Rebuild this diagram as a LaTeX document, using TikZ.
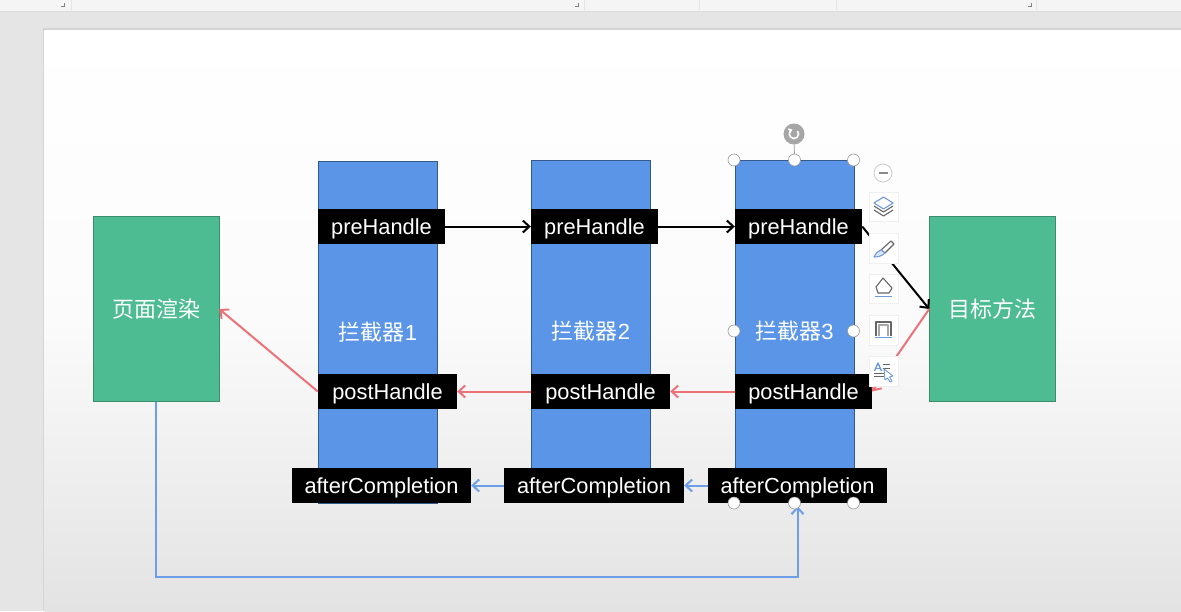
\documentclass[tikz,border=0pt]{standalone}
\usepackage{fontspec}
\setmainfont{Liberation Sans}
\newfontfamily\cjk{Noto Sans CJK SC}
\usetikzlibrary{arrows.meta, shadows}
\definecolor{boxblue}{HTML}{5A95E8}
\definecolor{boxgreen}{HTML}{4DBC93}
\definecolor{redline}{HTML}{EE7178}
\definecolor{blueline}{HTML}{6C9EEA}
\definecolor{iconblue}{HTML}{6F9BDC}
\tikzset{
  block/.style={draw=boxblue!60!black, line width=0.6pt, fill=boxblue, text=white, inner sep=0pt,
    minimum width=119, minimum height=342, font=\fontsize{22}{26}\selectfont\cjk},
  goal/.style={block, draw=boxgreen!75!black, fill=boxgreen, minimum width=126, minimum height=185.5},
  tag/.style={fill=black, text=white, inner sep=0pt, minimum height=35, text height=16, text depth=0,
    font=\fontsize{21.8}{26}\selectfont},
  grip/.style={circle, draw=black!40, line width=0.6pt, fill=white, inner sep=0pt, minimum size=12},
  tool/.style={draw=black!6, fill=white, inner sep=0pt, minimum size=29.5,
    drop shadow={shadow xshift=1pt, shadow yshift=-1pt, opacity=0.4, fill=black}},
  pen/.style={line width=1.1pt, line join=round},
  wire/.style={->, line width=2pt}
}
\begin{document}
\begin{tikzpicture}[x=1pt, y=-1pt, >={Straight Barb[length=6.5pt, width=12pt]}]
  \useasboundingbox (0,0) rectangle (1181,611);
  % window and slide
  \fill [black!10] (0,0) rectangle (1181,611);
  \fill [black!4] (0,0) rectangle (1181,11);
  \draw [black!14, line width=0.8pt] (0,11.5) -- (1181,11.5);
  \foreach \sx in {71,584,699,836,1036} {
    \draw [black!10] (\sx,0) -- (\sx,10);
  }
  \foreach \sx in {64,578,1031} {
    \draw [black!50, line width=0.6pt] (\sx-3,6) -- (\sx,6) -- (\sx,3);
  }
  \fill [black!17] (42.5,27.5) rectangle (1181,611);
  \shade [top color=white, bottom color=black!11, middle color=black!1.5] (44.5,30) rectangle (1181,611);

  % blocks
  \node [block] (box1) at (378,332) {拦截器{\rmfamily 1}};
  \node [block] (box2) at (591,331.5) {拦截器{\rmfamily 2}};
  \node [block] (box3) at (794.5,331.5) {拦截器{\rmfamily 3}};
  \node [goal] (render) at (156,309) {页面渲染};
  \node [goal] (target) at (992.5,309) {目标方法};

  \node [tag, minimum width=127] (pre1) at (381.5,226.5) {preHandle};
  \node [tag, minimum width=127] (pre2) at (594.5,226.5) {preHandle};
  \node [tag, minimum width=127] (pre3) at (798.5,226.5) {preHandle};
  \node [tag, minimum width=139] (post1) at (387.5,391.5) {postHandle};
  \node [tag, minimum width=139] (post2) at (600.5,391.5) {postHandle};
  \node [tag, minimum width=137] (post3) at (803.5,391.5) {postHandle};
  \node [tag, minimum width=179] (after1) at (381.5,485.5) {afterCompletion};
  \node [tag, minimum width=180] (after2) at (594,485.5) {afterCompletion};
  \node [tag, minimum width=179] (after3) at (797.5,485.5) {afterCompletion};
  \coordinate (turn) at (797.5,577);

  % connectors
  \draw [wire] (pre1) -- (pre2);
  \draw [wire] (pre2) -- (pre3);
  \draw [wire] (pre3.east) -- (target.west);
  \draw [wire, redline] (target.west) -- (post3.east);
  \draw [wire, redline] (post3) -- (post2);
  \draw [wire, redline] (post2) -- (post1);
  \draw [wire, redline] (post1.west) -- (render.east);
  \draw [wire, blueline] (after3) -- (after2);
  \draw [wire, blueline] (after2) -- (after1);
  \draw [wire, blueline, shorten >=3pt] (render.south) |- (turn) -- (after3.south);

  % selection frame of the third block
  \node [circle, fill=black!35, inner sep=0pt, minimum size=21] (spin) at (794,134) {};
  \draw [black!40, line width=0.8pt] (spin) -- (box3.north);
  \draw [white, line width=1.6pt, ->, >={Straight Barb[length=2.5pt, width=4pt]}] (797.5,131) arc [start angle=-40, end angle=250, radius=4.6];
  \node [grip] (gripa) at (734,160) {};
  \node [grip] (gripb) at (794.5,160) {};
  \node [grip] (gripc) at (853.5,160) {};
  \node [grip] (gripd) at (734,331) {};
  \node [grip] (gripe) at (853.5,331) {};
  \node [grip] (gripf) at (734,503) {};
  \node [grip] (gripg) at (794.5,503) {};
  \node [grip] (griph) at (853.5,503) {};

  % floating toolbar
  \node [circle, draw=black!20, line width=0.8pt, fill=white, minimum size=18, inner sep=0pt] (minus) at (883,173) {};
  \draw [black!45, line width=1.4pt] (878.5,173) -- (887.5,173);
  \node [tool] (layers) at (883.5,206.5) {};
  \node [tool] (brush) at (883.5,248) {};
  \node [tool] (bucket) at (883.5,288.5) {};
  \node [tool] (frame) at (883.5,330) {};
  \node [tool] (texts) at (883.5,371) {};
  \draw [pen, black!60] (874,206) -- (883.5,212) -- (893,206);
  \draw [pen, black!60] (874,210) -- (883.5,216) -- (893,210);
  \draw [pen, iconblue, fill=white] (874,203) -- (883.5,197) -- (893,203) -- (883.5,209) -- cycle;
  \draw [pen, black!60] (891,241) -- (894,244) -- (885,253) -- (881,250) -- cycle;
  \draw [pen, iconblue, fill=iconblue!25] (881,250) -- (885,253) .. controls (882,256) and (878,257) .. (874,257) .. controls (875,254) and (877,252) .. (881,250);
  \draw [pen, black!60] (876,287) -- (883,278) -- (892,288) -- (889,293) -- (878,293) -- cycle;
  \draw [iconblue, line width=1.6pt] (875,296.5) -- (892,296.5);
  \draw [pen, black!60, line width=1.8pt] (876,336) -- (876,322) -- (891,322) -- (891,336);
  \draw [pen, black!35] (879,336) -- (879,325) -- (888,325) -- (888,336);
  \draw [iconblue, line width=1.6pt] (875,337.5) -- (892,337.5);
  \draw [pen, iconblue, line width=1.4pt] (874.5,371) -- (878,363) -- (881.5,371);
  \draw [iconblue, line width=1pt] (876,368.5) -- (880,368.5);
  \foreach \ly in {364,368} {
    \draw [black!60, line width=0.9pt] (883,\ly) -- (890,\ly);
  }
  \draw [black!60, line width=0.9pt] (874,373.5) -- (884,373.5);
  \draw [black!60, line width=0.9pt] (874,376.5) -- (884,376.5);
  \draw [pen, iconblue, fill=white, line width=0.9pt] (884,369) -- (893,376) -- (889.5,377) -- (892,381) -- (890,382) -- (887.5,378) -- (885,380) -- cycle;
\end{tikzpicture}
\end{document}
